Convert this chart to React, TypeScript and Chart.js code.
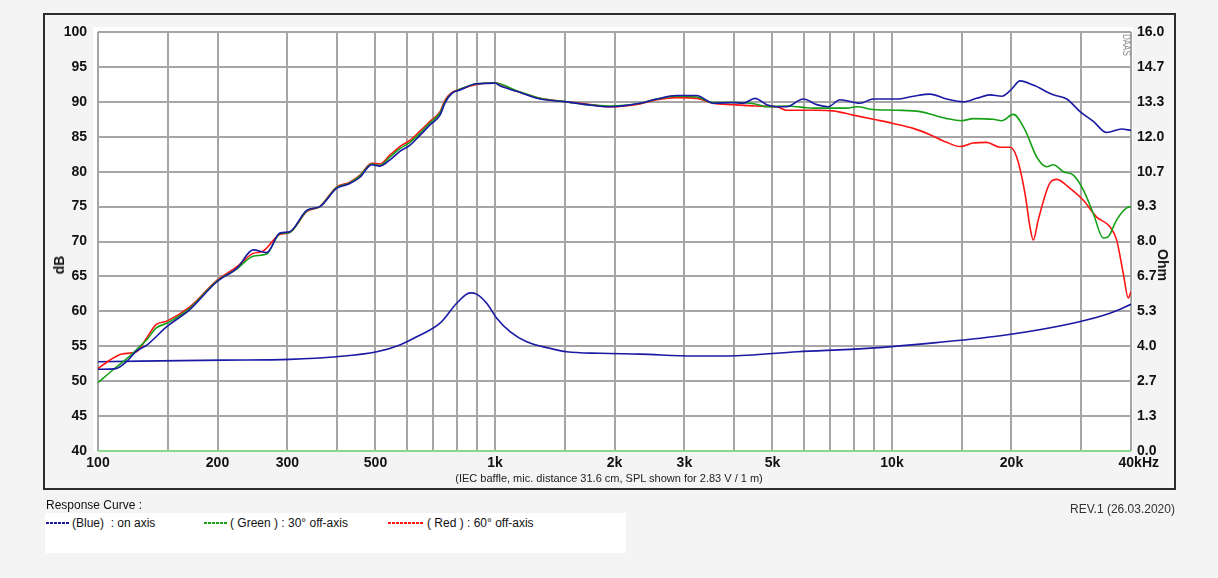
import React, { useEffect, useRef } from 'react';
import { Chart, registerables } from 'chart.js';

Chart.register(...registerables);

const FONT = "'Liberation Sans', Arial, Helvetica, sans-serif";

// ---- on axis (blue) SPL ----
const FREQ_ON = [100, 111, 118, 125, 133, 149, 170, 199, 224, 246, 266, 287, 304, 336, 362, 399, 431, 457, 489, 513, 544, 576, 611, 647, 686, 727, 748, 778, 816, 899, 971, 1000, 1029, 1134, 1298, 1516, 1702, 1949, 2319, 2555, 2869, 3221, 3547, 3984, 4221, 4518, 4836, 5124, 5430, 5978, 6461, 6910, 7396, 8306, 8974, 10276, 11317, 12467, 13735, 15125, 16343, 17657, 18893, 20000, 21011, 22695, 25489, 27555, 29762, 32147, 34740, 37894, 40000];
const SPL_ON = [51.7, 51.8, 52.8, 54.3, 55.2, 57.8, 60.2, 64.2, 66.2, 68.8, 68.4, 71.2, 71.4, 74.5, 75.0, 77.6, 78.3, 79.2, 81.0, 80.8, 81.7, 82.9, 83.8, 85.2, 86.7, 88.1, 89.8, 91.2, 91.7, 92.6, 92.65, 92.7, 92.3, 91.5, 90.4, 90.0, 89.6, 89.3, 89.8, 90.4, 90.9, 90.9, 89.8, 89.9, 89.8, 90.5, 89.6, 89.3, 89.3, 90.4, 89.6, 89.3, 90.3, 89.8, 90.4, 90.4, 90.8, 91.1, 90.4, 90.0, 90.5, 91.0, 90.8, 91.8, 93.0, 92.4, 91.0, 90.4, 88.6, 87.2, 85.6, 86.1, 85.9];

// ---- 30° off-axis (green) SPL ----
const FREQ_30 = [100, 109, 118, 125, 133, 140, 149, 170, 199, 224, 246, 266, 287, 304, 336, 362, 399, 431, 457, 489, 513, 544, 576, 611, 647, 686, 727, 748, 778, 816, 899, 1000, 1134, 1298, 1516, 1702, 1949, 2319, 2555, 2869, 3221, 3547, 3984, 4518, 4836, 5430, 5978, 6336, 7113, 7689, 8147, 8974, 10276, 11765, 13735, 14986, 16023, 17998, 18893, 20210, 21627, 23149, 24533, 25489, 27015, 28631, 30336, 32147, 34059, 35062, 36810, 39007, 40000];
const SPL_30 = [49.8, 51.6, 53.2, 54.5, 56.0, 57.6, 58.3, 60.4, 64.3, 66.1, 67.9, 68.2, 71.1, 71.3, 74.4, 75.0, 77.7, 78.4, 79.4, 81.1, 80.9, 82.1, 83.3, 84.2, 85.5, 87.0, 88.4, 90.0, 91.2, 91.8, 92.6, 92.7, 91.6, 90.5, 90.0, 89.6, 89.4, 89.8, 90.4, 90.8, 90.7, 89.9, 89.9, 89.7, 89.3, 89.4, 89.2, 89.1, 89.1, 89.1, 89.3, 88.9, 88.8, 88.6, 87.6, 87.3, 87.6, 87.5, 87.3, 88.2, 86.0, 82.1, 80.7, 81.0, 80.0, 79.5, 77.4, 74.0, 70.5, 70.7, 73.1, 74.8, 75.0];

// ---- 60° off-axis (red) SPL ----
const FREQ_60 = [100, 107, 115, 125, 133, 140, 149, 170, 199, 224, 246, 260, 287, 304, 336, 362, 399, 431, 457, 489, 513, 544, 576, 611, 647, 686, 727, 748, 778, 816, 899, 1000, 1134, 1298, 1516, 1702, 1949, 2319, 2555, 2869, 3221, 3547, 3984, 4518, 5124, 5430, 6461, 7113, 7990, 8974, 10077, 11317, 12467, 13735, 14839, 16023, 17319, 18707, 19826, 20613, 21627, 22260, 22695, 23360, 25000, 25999, 28088, 30336, 32783, 35410, 36810, 38251, 39376, 40000];
const SPL_60 = [51.8, 53.0, 53.9, 54.2, 56.3, 58.1, 58.6, 60.6, 64.4, 66.4, 68.3, 68.6, 71.0, 71.3, 74.3, 75.0, 77.8, 78.5, 79.5, 81.2, 81.1, 82.4, 83.6, 84.5, 85.8, 87.2, 88.6, 90.2, 91.3, 91.8, 92.5, 92.7, 91.5, 90.5, 90.0, 89.7, 89.3, 89.7, 90.3, 90.6, 90.5, 89.8, 89.6, 89.4, 89.3, 88.8, 88.8, 88.7, 88.1, 87.5, 86.9, 86.2, 85.3, 84.2, 83.6, 84.1, 84.2, 83.5, 83.5, 82.1, 76.9, 72.1, 70.2, 73.1, 78.4, 78.9, 77.6, 75.9, 73.5, 72.1, 70.2, 65.4, 61.9, 62.8];

// ---- impedance (blue, right axis) ----
const FREQ_Z = [100, 206, 304, 399, 504, 576, 635, 727, 801, 865, 899, 953, 1010, 1091, 1202, 1376, 1516, 1839, 2319, 3164, 3870, 5784, 8650, 12936, 19345, 28924, 35400, 40000];
const IMP_Z = [3.41, 3.47, 3.50, 3.60, 3.79, 4.05, 4.36, 4.88, 5.64, 6.04, 5.99, 5.64, 5.07, 4.56, 4.17, 3.92, 3.79, 3.73, 3.70, 3.63, 3.63, 3.79, 3.92, 4.14, 4.43, 4.90, 5.26, 5.60];

// ---- axes ----
const X_TICKS = [100, 150, 200, 300, 400, 500, 600, 700, 800, 900, 1000, 1500, 2000, 3000, 4000, 5000, 6000, 7000, 8000, 9000, 10000, 15000, 20000, 30000, 40000];
const X_LABELS: Record<number, string> = {
  100: '100', 200: '200', 300: '300', 500: '500', 1000: '1k', 2000: '2k', 3000: '3k',
  5000: '5k', 10000: '10k', 20000: '20k', 40000: '    40kHz',
};
const OHM_TICKS = [0, 4 / 3, 8 / 3, 4, 16 / 3, 20 / 3, 8, 28 / 3, 32 / 3, 12, 40 / 3, 44 / 3, 16];
const OHM_LABELS = ['0.0', '1.3', '2.7', '4.0', '5.3', '6.7', '8.0', '9.3', '10.7', '12.0', '13.3', '14.7', '16.0'];

const BLUE = '#1a1aa4';
const GREEN = '#16a016';
const RED = '#ff1414';
const GRID = '#a6a6a6';

const toPts = (fs: number[], vs: number[]) => fs.map((f, i) => ({ x: f, y: vs[i] }));

const decor = {
  id: 'decor',
  beforeDraw(chart: any) {
    const { ctx, chartArea: a, width, height } = chart;
    ctx.save();
    ctx.fillStyle = '#f4f4f4';
    ctx.fillRect(0, 0, width, height);
    ctx.fillStyle = '#ffffff';
    ctx.fillRect(a.left - 5, a.top - 5, a.right - a.left + 7, a.bottom - a.top + 5);
    ctx.strokeStyle = '#2c2c2c';
    ctx.lineWidth = 2;
    ctx.strokeRect(44, 14, 1131, 475);
    ctx.restore();
  },
  afterDraw(chart: any) {
    const { ctx, chartArea: a } = chart;
    ctx.save();
    ctx.translate(a.right - 5, a.top + 2);
    ctx.rotate(Math.PI / 2);
    ctx.scale(0.8, 1);
    ctx.font = `10px ${FONT}`;
    ctx.fillStyle = '#8c8c8c';
    ctx.textBaseline = 'middle';
    ctx.fillText('DAAS', 0, 0);
    ctx.restore();
  },
};

function Dash({ left, width, color }: { left: number; width: number; color: string }) {
  const n = Math.floor(width / 4);
  return (
    <div style={{ position: 'absolute', left, top: 522, width, height: 2, display: 'flex' }}>
      {Array.from({ length: n }).map((_, i) => (
        <div key={i} style={{ width: 3, height: 1.5, marginRight: 1, background: color }} />
      ))}
    </div>
  );
}

export default function App() {
  const ref = useRef<HTMLCanvasElement | null>(null);

  useEffect(() => {
    if (!ref.current) return;
    const tickFont = { family: FONT, size: 14, weight: 'bold' as const };
    const line = (label: string, fs: number[], vs: number[], color: string, axis: string, order: number) => ({
      label,
      data: toPts(fs, vs),
      borderColor: color,
      backgroundColor: color,
      borderWidth: 1.6,
      pointRadius: 0,
      fill: false,
      cubicInterpolationMode: 'monotone' as const,
      yAxisID: axis,
      order,
    });
    const chart = new Chart(ref.current, {
      type: 'line',
      data: {
        datasets: [
          line('(Blue) : on axis', FREQ_ON, SPL_ON, BLUE, 'y', 0),
          line('( Green ) : 30° off-axis', FREQ_30, SPL_30, GREEN, 'y', 1),
          line('( Red ) : 60° off-axis', FREQ_60, SPL_60, RED, 'y', 2),
          line('Impedance', FREQ_Z, IMP_Z, BLUE, 'y1', 3),
        ],
      },
      options: {
        responsive: false,
        animation: false,
        events: [],
        layout: { padding: { top: 32, left: 0, right: 0, bottom: 0 } },
        plugins: { legend: { display: false }, tooltip: { enabled: false } },
        scales: {
          x: {
            type: 'logarithmic',
            position: 'bottom',
            min: 100,
            max: 40000,
            afterBuildTicks: (s: any) => {
              s.ticks = X_TICKS.map((v) => ({ value: v }));
            },
            afterFit: (s: any) => {
              s.height = 127;
            },
            ticks: {
              autoSkip: false,
              maxRotation: 0,
              minRotation: 0,
              padding: 4,
              color: '#111',
              font: tickFont,
              callback: (v: any) => X_LABELS[Number(v)] ?? '',
            },
            grid: { color: GRID, lineWidth: 2, drawTicks: false },
            border: { display: false },
          },
          y: {
            type: 'linear',
            position: 'left',
            min: 40,
            max: 100,
            afterFit: (s: any) => {
              s.width = 98;
            },
            ticks: { stepSize: 5, padding: 11, color: '#111', font: tickFont },
            grid: {
              color: (c: any) => (c.tick && c.tick.value === 40 ? '#8ad88a' : GRID),
              lineWidth: 2,
              drawTicks: false,
            },
            border: { display: false },
          },
          y1: {
            type: 'linear',
            position: 'right',
            min: 0,
            max: 16,
            afterBuildTicks: (s: any) => {
              s.ticks = OHM_TICKS.map((v) => ({ value: v }));
            },
            afterFit: (s: any) => {
              s.width = 87;
            },
            ticks: {
              padding: 6,
              color: '#111',
              font: tickFont,
              callback: (_v: any, i: number) => OHM_LABELS[i],
            },
            grid: { display: false, drawTicks: false },
            border: { display: false },
          },
        },
      },
      plugins: [decor],
    } as any);
    return () => chart.destroy();
  }, []);

  const txt: React.CSSProperties = {
    position: 'absolute',
    fontFamily: FONT,
    whiteSpace: 'pre',
    lineHeight: '14px',
  };

  return (
    <div style={{ position: 'fixed', left: 0, top: 0, width: 1218, height: 578, background: '#f4f4f4', overflow: 'hidden' }}>
      <canvas ref={ref} width={1218} height={578} style={{ position: 'absolute', left: 0, top: 0 }} />
      <div style={{ ...txt, left: 59, top: 265, fontSize: 14, fontWeight: 'bold', color: '#111', transform: 'translate(-50%, -50%) rotate(-90deg)' }}>dB</div>
      <div style={{ ...txt, left: 1163, top: 265, fontSize: 14, fontWeight: 'bold', color: '#111', transform: 'translate(-50%, -50%) rotate(90deg)' }}>Ohm</div>
      <div style={{ ...txt, left: 609, top: 478, fontSize: 11, color: '#222', transform: 'translate(-50%, -50%)' }}>
        (IEC baffle, mic. distance 31.6 cm, SPL shown for 2.83 V / 1 m)
      </div>
      <div style={{ ...txt, left: 46, top: 498, fontSize: 12, color: '#111' }}>Response Curve :</div>
      <div style={{ position: 'absolute', left: 45, top: 513, width: 581, height: 40, background: '#ffffff' }} />
      <Dash left={46} width={24} color={BLUE} />
      <div style={{ ...txt, left: 72, top: 516, fontSize: 12, color: '#111' }}>(Blue)  : on axis</div>
      <Dash left={204} width={24} color={GREEN} />
      <div style={{ ...txt, left: 230, top: 516, fontSize: 12, color: '#111' }}>( Green ) : 30° off-axis</div>
      <Dash left={388} width={36} color={RED} />
      <div style={{ ...txt, left: 427, top: 516, fontSize: 12, color: '#111' }}>( Red ) : 60° off-axis</div>
      <div style={{ ...txt, left: 1070, top: 502, fontSize: 12, color: '#333' }}>REV.1 (26.03.2020)</div>
    </div>
  );
}
